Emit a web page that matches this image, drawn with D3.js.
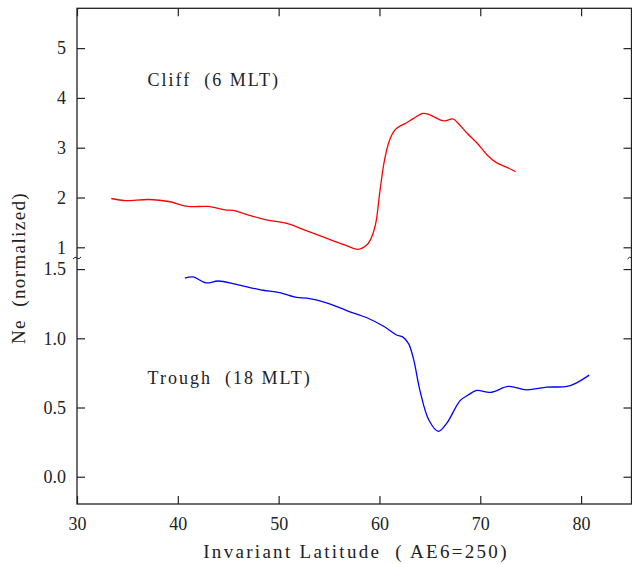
<!DOCTYPE html>
<html>
<head>
<meta charset="utf-8">
<script src="https://cdn.jsdelivr.net/npm/d3@7"></script>
<style>
  body { margin: 0; background: #fff; }
  text { font-family: "Liberation Serif", "Times New Roman", serif; fill: #222; }
  .axis path { display: none; }
  .axis line { stroke: #222; stroke-width: 1.2; }
  .axis text { font-size: 18px; }
  .line { fill: none; stroke-width: 1.3; }
</style>
</head>
<body>
<svg id="chart" width="632" height="564"></svg>
<script>
// Ne profiles vs invariant latitude, broken y axis

// cliff (6 MLT), upper panel
var cliffLat = [33.4, 34.6, 37.2, 39.1, 41.0, 43.0, 44.7, 45.5, 46.8, 48.8, 50.8, 52.8, 54.4, 56.4, 57.9,
                58.7, 59.1, 59.6, 60.06, 60.5, 61.0, 61.5, 62.0, 62.5, 63.4, 64.3, 65.0, 66.0, 66.5, 67.3, 67.8,
                68.7, 69.7, 70.7, 71.6, 72.6, 73.5];
var cliffNe  = [1.98, 1.94, 1.96, 1.92, 1.82, 1.82, 1.75, 1.74, 1.66, 1.55, 1.48, 1.33, 1.21, 1.06, 0.96,
                1.04, 1.15, 1.45, 2.15, 2.75, 3.15, 3.35, 3.43, 3.48, 3.59, 3.69, 3.66, 3.56, 3.54, 3.58, 3.49,
                3.29, 3.09, 2.85, 2.70, 2.61, 2.52];

// trough (18 MLT), lower panel
var troughLat = [40.7, 41.5, 42.8, 44.0, 45.8, 48.2, 50.1, 51.8, 52.8, 54.75, 56.75, 58.7, 60.5, 61.7, 62.3,
                 62.9, 63.4, 64.0, 64.9, 65.85, 66.7, 68.0, 68.8, 69.65, 71.0, 72.8, 74.6, 76.6, 78.6, 79.6, 80.8];
var troughNe  = [1.434, 1.443, 1.40, 1.414, 1.39, 1.35, 1.33, 1.295, 1.29, 1.256, 1.20, 1.15, 1.083, 1.024, 1.01,
                 0.96, 0.844, 0.628, 0.41, 0.328, 0.389, 0.55, 0.59, 0.623, 0.609, 0.652, 0.628, 0.647, 0.652, 0.68, 0.734];

var xTicks = [30, 40, 50, 60, 70, 80];
var topTicks = [1, 2, 3, 4, 5];
var bottomTicks = [0.0, 0.5, 1.0, 1.5];

var svg = d3.select("#chart"),
    margin = {top: 8.3, right: 0.5, bottom: 60, left: 77},
    width = +svg.attr("width") - margin.left - margin.right,
    height = +svg.attr("height") - margin.top - margin.bottom,
    breakY = 249.7; // break between panels, relative to plot top

var x = d3.scaleLinear().domain([30, 85]).range([0, width]);
var yTop = d3.scaleLinear().domain([0.785, 5.8]).range([breakY, 0]);
var yBot = d3.scaleLinear().domain([-0.197, 1.58]).range([height, breakY]);

var g = svg.append("g")
    .attr("transform", "translate(" + margin.left + "," + margin.top + ")");

// frame
g.append("rect")
    .attr("width", width)
    .attr("height", height)
    .attr("fill", "none")
    .attr("stroke", "#222")
    .attr("stroke-width", 1.3);

// x axes (ticks inward)
g.append("g")
    .attr("class", "axis")
    .attr("transform", "translate(0," + height + ")")
    .call(d3.axisBottom(x).tickValues(xTicks).tickSizeInner(-8).tickSizeOuter(0).tickPadding(10)
        .tickFormat(d3.format("d")))
    .selectAll("text").attr("dy", "0.9em");

g.append("g")
    .attr("class", "axis")
    .call(d3.axisTop(x).tickValues(xTicks).tickSizeInner(-8).tickSizeOuter(0).tickFormat(""));

// y axes left
g.append("g")
    .attr("class", "axis")
    .call(d3.axisLeft(yTop).tickValues(topTicks).tickSizeInner(-8).tickSizeOuter(0).tickPadding(11)
        .tickFormat(d3.format("d")));

g.append("g")
    .attr("class", "axis")
    .call(d3.axisLeft(yBot).tickValues(bottomTicks).tickSizeInner(-8).tickSizeOuter(0).tickPadding(11)
        .tickFormat(d3.format(".1f")));

// y axes right
g.append("g")
    .attr("class", "axis")
    .attr("transform", "translate(" + width + ",0)")
    .call(d3.axisRight(yTop).tickValues(topTicks).tickSizeInner(-8).tickSizeOuter(0).tickFormat(""));

g.append("g")
    .attr("class", "axis")
    .attr("transform", "translate(" + width + ",0)")
    .call(d3.axisRight(yBot).tickValues(bottomTicks).tickSizeInner(-8).tickSizeOuter(0).tickFormat(""));

// break marks
[0, width].forEach(function(px) {
    g.append("path")
        .attr("d", "M" + (px - 4) + "," + (breakY + 1) + "q2,-3 4,-1 t4,-1")
        .attr("fill", "none")
        .attr("stroke", "#222")
        .attr("stroke-width", 1);
});

// lines
var lineTop = d3.line()
    .curve(d3.curveCatmullRom)
    .x(function(d) { return x(d[0]); })
    .y(function(d) { return yTop(d[1]); });

var lineBot = d3.line()
    .curve(d3.curveCatmullRom)
    .x(function(d) { return x(d[0]); })
    .y(function(d) { return yBot(d[1]); });

g.append("path")
    .datum(d3.zip(cliffLat, cliffNe))
    .attr("class", "line")
    .attr("stroke", "#ff0000")
    .attr("d", lineTop);

g.append("path")
    .datum(d3.zip(troughLat, troughNe))
    .attr("class", "line")
    .attr("stroke", "#0000ff")
    .attr("d", lineBot);

// annotations
g.append("text")
    .attr("x", x(37.0))
    .attr("y", yTop(4.24))
    .style("font-size", "18px")
    .style("letter-spacing", "2px")
    .style("white-space", "pre")
    .text("Cliff  (6 MLT)");

g.append("text")
    .attr("x", x(37.0))
    .attr("y", yBot(0.67))
    .style("font-size", "18px")
    .style("letter-spacing", "2px")
    .style("white-space", "pre")
    .text("Trough  (18 MLT)");

// axis titles
svg.append("text")
    .attr("x", 356)
    .attr("y", 558)
    .attr("text-anchor", "middle")
    .style("font-size", "19px")
    .style("letter-spacing", "2.3px")
    .style("white-space", "pre")
    .text("Invariant Latitude  ( AE6=250)");

svg.append("text")
    .attr("transform", "translate(25,268) rotate(-90)")
    .attr("text-anchor", "middle")
    .style("font-size", "19px")
    .style("letter-spacing", "1.4px")
    .style("white-space", "pre")
    .text("Ne  (normalized)");
</script>
</body>
</html>
